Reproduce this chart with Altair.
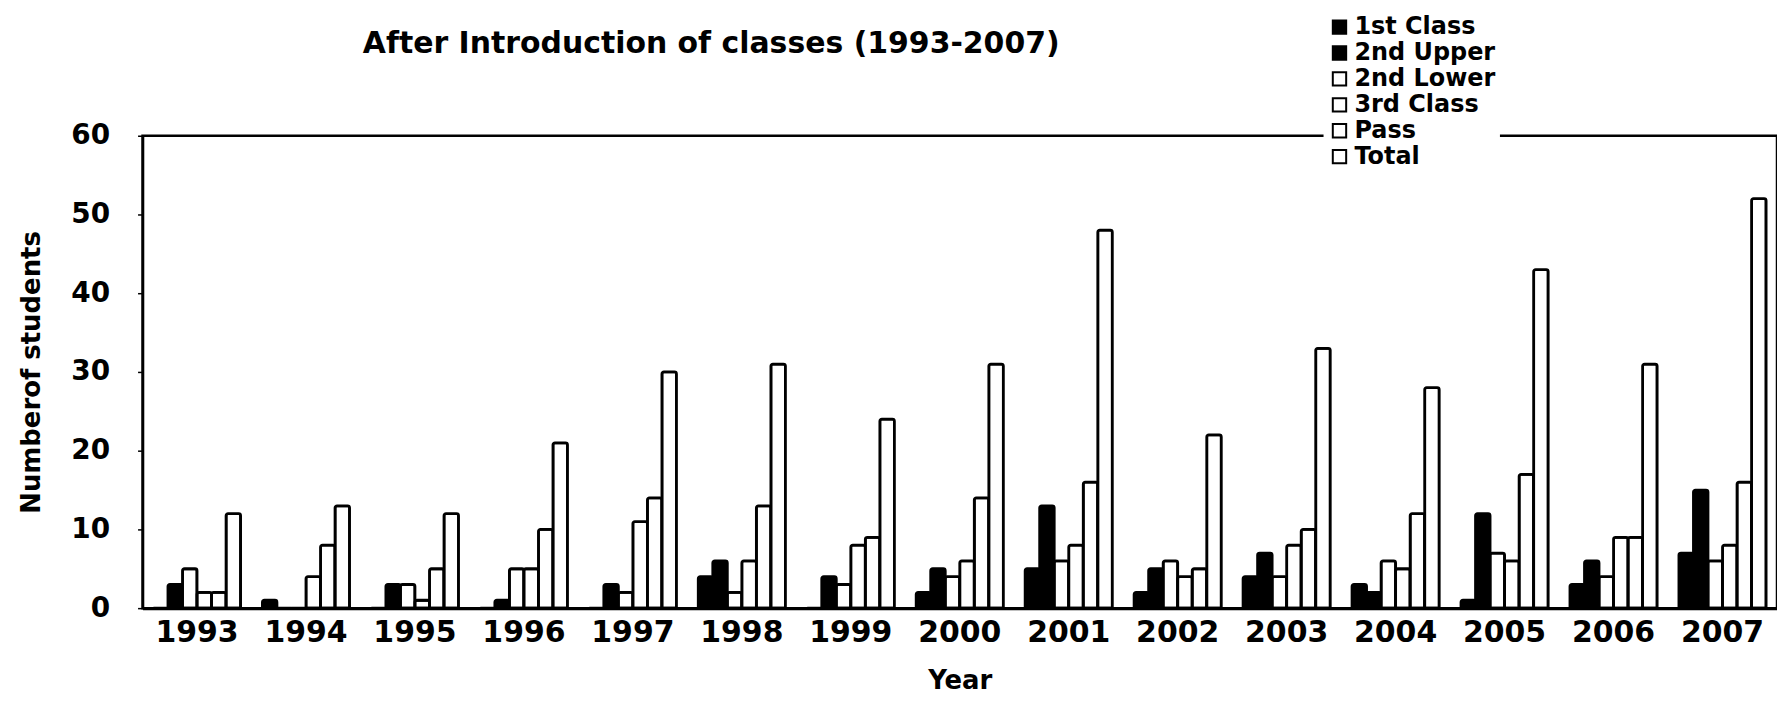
import altair as alt
import pandas as pd

years = [str(y) for y in range(1993, 2008)]
series = ["1st Class", "2nd Upper", "2nd Lower", "3rd Class", "Pass", "Total"]
first_class = [0, 1, 0, 0, 0, 4, 0, 2, 5, 2, 4, 3, 1, 3, 7]
second_upper = [3, 0, 3, 1, 3, 6, 4, 5, 13, 5, 7, 2, 12, 6, 15]
second_lower = [5, 0, 3, 5, 2, 2, 3, 4, 6, 6, 4, 6, 7, 4, 6]
third_class = [2, 4, 1, 5, 11, 6, 8, 6, 8, 4, 8, 5, 6, 9, 8]
pass_class = [2, 8, 5, 10, 14, 13, 9, 14, 16, 5, 10, 12, 17, 9, 16]
total = [12, 13, 12, 21, 30, 31, 24, 31, 48, 22, 33, 28, 43, 31, 52]
fills = ["black", "black", "white", "white", "white", "white"]
y_ticks = [0, 10, 20, 30, 40, 50, 60]

columns = [first_class, second_upper, second_lower, third_class, pass_class, total]
rows = []
for s, vals in zip(series, columns):
    for yr, v in zip(years, vals):
        rows.append({"Year": yr, "Series": s, "Students": v})
df = pd.DataFrame(rows)

FONT = "DejaVu Sans"

chart = alt.Chart(df).mark_bar(
    stroke="black", strokeWidth=2.8, cornerRadiusTopLeft=2, cornerRadiusTopRight=2
).encode(
    x=alt.X(
        "Year:N", sort=years,
        scale=alt.Scale(paddingInner=0.2, paddingOuter=0.1),
        axis=alt.Axis(
            title="Year", labelAngle=0, ticks=False, labelFontSize=30,
            labelPadding=24, labelBaseline="middle", titleFontSize=26,
            titleX=820, titleY=73, titleBaseline="middle", domainWidth=3,
        ),
    ),
    xOffset=alt.XOffset("Series:N", sort=series,
                        scale=alt.Scale(paddingInner=0, paddingOuter=0)),
    y=alt.Y(
        "Students:Q",
        scale=alt.Scale(domain=[0, 60], nice=False),
        axis=alt.Axis(
            title="Numberof students", values=y_ticks, tickSize=5, tickWidth=1.5,
            labelPadding=28, labelFontSize=28, titleFontSize=26,
            titleX=-111, titleY=237, titleAngle=270, titleBaseline="middle",
            titleAlign="center", grid=False, domainWidth=2.5,
        ),
    ),
    fill=alt.Fill(
        "Series:N", sort=series,
        scale=alt.Scale(domain=series, range=fills),
        legend=alt.Legend(
            title=None, orient="none", legendX=1185, legendY=-125,
            symbolType="square", symbolSize=180, symbolStrokeColor="black",
            symbolStrokeWidth=2, labelFontSize=24, labelFont=FONT,
            labelFontWeight="bold", labelColor="black", rowPadding=2,
            fillColor="white", padding=4, labelOffset=3,
        ),
    ),
).properties(
    width=1640, height=474,
    title=alt.TitleParams(
        text="After Introduction of classes (1993-2007)", anchor="start",
        frame="group", dx=221, dy=52, fontSize=30, fontWeight="bold", font=FONT,
        color="black",
    ),
    autosize=alt.AutoSizeParams(type="none"),
    padding={"left": 135, "top": 127, "right": 0, "bottom": 90},
).configure(
    font=FONT
).configure_axis(
    labelFont=FONT, titleFont=FONT, labelFontWeight="bold",
    titleFontWeight="bold", labelColor="black", titleColor="black",
    domainColor="black", tickColor="black",
).configure_view(
    stroke="black", strokeWidth=2.5
)

chart.save("out.html", embed_options={"renderer": "svg", "actions": False})
